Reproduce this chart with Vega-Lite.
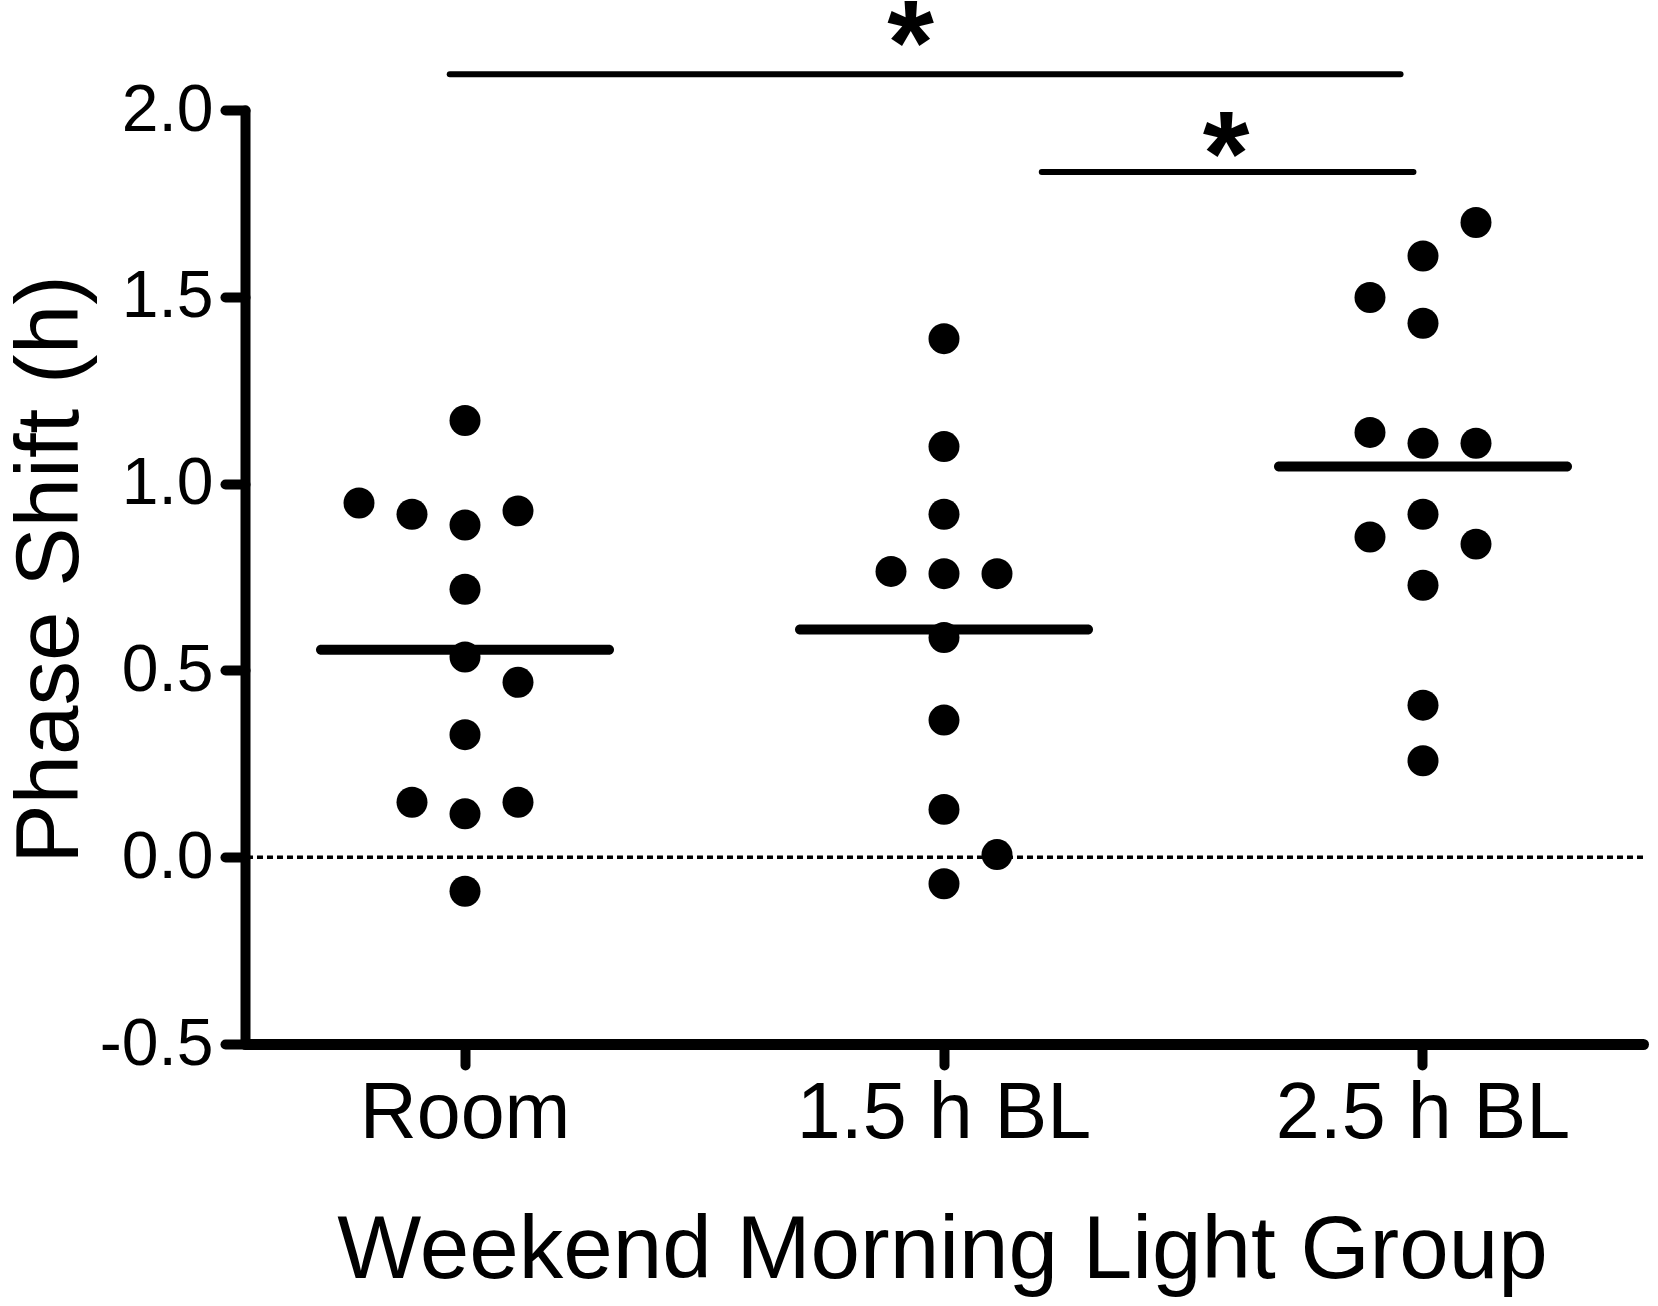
{
  "$schema": "https://vega.github.io/schema/vega-lite/v6.json",
  "width": 1398,
  "height": 934,
  "autosize": "none",
  "padding": {"left": 245, "top": 110, "right": 15, "bottom": 262},
  "background": "white",
  "config": {
    "view": {"stroke": null},
    "font": "Liberation Sans",
    "axis": {
      "grid": false,
      "domainColor": "black",
      "domainCap": "round",
      "tickColor": "black",
      "tickCap": "round",
      "tickWidth": 10,
      "labelColor": "black",
      "labelFont": "Liberation Sans",
      "labelLimit": 0,
      "titleColor": "black",
      "titleFont": "Liberation Sans",
      "titleFontWeight": "normal",
      "titleFontSize": 89
    }
  },
  "datasets": {
    "shifts": [
      {"group": "Room", "col": 0, "value": 1.169},
      {"group": "Room", "col": -2, "value": 0.948},
      {"group": "Room", "col": -1, "value": 0.918},
      {"group": "Room", "col": 0, "value": 0.889},
      {"group": "Room", "col": 1, "value": 0.927},
      {"group": "Room", "col": 0, "value": 0.717},
      {"group": "Room", "col": 0, "value": 0.536},
      {"group": "Room", "col": 1, "value": 0.468},
      {"group": "Room", "col": 0, "value": 0.328},
      {"group": "Room", "col": -1, "value": 0.147},
      {"group": "Room", "col": 0, "value": 0.116},
      {"group": "Room", "col": 1, "value": 0.147},
      {"group": "Room", "col": 0, "value": -0.091},
      {"group": "1.5 h BL", "col": 0, "value": 1.388},
      {"group": "1.5 h BL", "col": 0, "value": 1.099},
      {"group": "1.5 h BL", "col": 0, "value": 0.918},
      {"group": "1.5 h BL", "col": -1, "value": 0.765},
      {"group": "1.5 h BL", "col": 0, "value": 0.759},
      {"group": "1.5 h BL", "col": 1, "value": 0.759},
      {"group": "1.5 h BL", "col": 0, "value": 0.588},
      {"group": "1.5 h BL", "col": 0, "value": 0.367},
      {"group": "1.5 h BL", "col": 0, "value": 0.128},
      {"group": "1.5 h BL", "col": 1, "value": 0.007},
      {"group": "1.5 h BL", "col": 0, "value": -0.071},
      {"group": "2.5 h BL", "col": 1, "value": 1.699},
      {"group": "2.5 h BL", "col": 0, "value": 1.609},
      {"group": "2.5 h BL", "col": -1, "value": 1.498},
      {"group": "2.5 h BL", "col": 0, "value": 1.429},
      {"group": "2.5 h BL", "col": -1, "value": 1.137},
      {"group": "2.5 h BL", "col": 0, "value": 1.108},
      {"group": "2.5 h BL", "col": 1, "value": 1.108},
      {"group": "2.5 h BL", "col": 0, "value": 0.918},
      {"group": "2.5 h BL", "col": -1, "value": 0.857},
      {"group": "2.5 h BL", "col": 1, "value": 0.838},
      {"group": "2.5 h BL", "col": 0, "value": 0.728},
      {"group": "2.5 h BL", "col": 0, "value": 0.407},
      {"group": "2.5 h BL", "col": 0, "value": 0.258}
    ],
    "bars": [
      {"from": 0.966, "to": 2.951, "value": 2.096},
      {"from": 2.202, "to": 2.978, "value": 1.834}
    ],
    "stars": [
      {"pos": 1.928, "value": 2.07, "label": "*"},
      {"pos": 2.587, "value": 1.772, "label": "*"}
    ]
  },
  "encoding": {
    "y": {
      "field": "value",
      "type": "quantitative",
      "scale": {"domain": [-0.5, 2], "nice": false, "zero": false},
      "axis": {
        "values": [-0.5, 0, 0.5, 1, 1.5, 2],
        "labelExpr": "datum.value < 0 ? '-' + format(-datum.value, '.1f') : format(datum.value, '.1f')",
        "domainWidth": 10,
        "tickSize": 20,
        "labelFontSize": 66,
        "labelPadding": 12,
        "title": "Phase Shift (h)",
        "titleAngle": -90,
        "titleBaseline": "alphabetic",
        "titleAlign": "center",
        "titleX": -168,
        "titleY": 459
      }
    }
  },
  "layer": [
    {
      "data": {"values": [{"value": 0}]},
      "mark": {"type": "rule", "color": "black", "strokeWidth": 3.5, "strokeDash": [6, 4]}
    },
    {
      "data": {"name": "shifts"},
      "mark": {"type": "point", "shape": "circle", "filled": true, "size": 960, "color": "black", "opacity": 1},
      "encoding": {
        "x": {
          "field": "group",
          "type": "nominal",
          "sort": ["Room", "1.5 h BL", "2.5 h BL"],
          "scale": {"type": "band", "domain": ["Room", "1.5 h BL", "2.5 h BL"], "paddingInner": 0.5574, "paddingOuter": 0.238},
          "axis": {
            "title": "Weekend Morning Light Group",
            "labelAngle": 0,
            "domainWidth": 11,
            "tickSize": 21,
            "labelFontSize": 79,
            "labelBaseline": "alphabetic",
            "labelPadding": 72,
            "titleBaseline": "alphabetic",
            "titleY": 233,
            "titleX": 697
          }
        },
        "xOffset": {
          "field": "col",
          "type": "ordinal",
          "scale": {"domain": [-2, -1, 0, 1, 2], "paddingInner": 0, "paddingOuter": 0}
        }
      }
    },
    {
      "data": {"name": "shifts"},
      "transform": [
        {"aggregate": [{"op": "mean", "field": "value", "as": "value"}], "groupby": ["group"]}
      ],
      "mark": {"type": "tick", "orient": "horizontal", "size": 298, "thickness": 10, "cornerRadius": 5, "color": "black", "opacity": 1},
      "encoding": {
        "x": {
          "field": "group",
          "type": "nominal",
          "sort": ["Room", "1.5 h BL", "2.5 h BL"],
          "scale": {"type": "band", "domain": ["Room", "1.5 h BL", "2.5 h BL"], "paddingInner": 0.5574, "paddingOuter": 0.238},
          "axis": null
        }
      }
    },
    {
      "data": {"name": "bars"},
      "mark": {"type": "rule", "color": "black", "strokeWidth": 6, "strokeCap": "round"},
      "encoding": {
        "x": {"field": "from", "type": "quantitative", "scale": {"domain": [0.5386, 3.4572], "nice": false, "zero": false}, "axis": null},
        "x2": {"field": "to"}
      }
    },
    {
      "data": {"name": "stars"},
      "mark": {"type": "text", "color": "black", "fontSize": 120, "fontWeight": "bold", "align": "center", "baseline": "alphabetic", "font": "Liberation Sans"},
      "encoding": {
        "x": {"field": "pos", "type": "quantitative", "scale": {"domain": [0.5386, 3.4572], "nice": false, "zero": false}, "axis": null},
        "text": {"field": "label"}
      }
    }
  ],
  "resolve": {"scale": {"x": "independent"}, "axis": {"x": "independent"}}
}
